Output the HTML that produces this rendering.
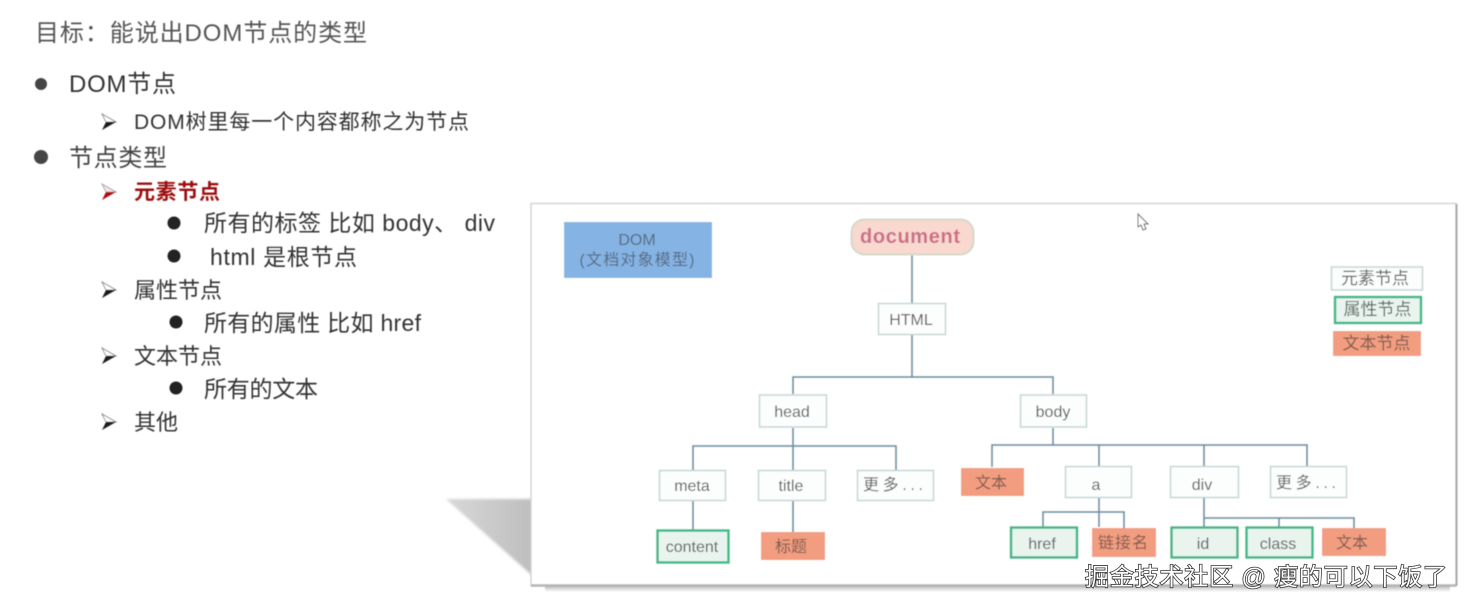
<!DOCTYPE html>
<html lang="zh">
<head>
<meta charset="utf-8">
<title>DOM节点的类型</title>
<style>
html,body{margin:0;padding:0;background:#fff;width:1464px;height:608px;overflow:hidden}
svg{display:block}
text{font-family:"Liberation Sans","Noto Sans CJK SC",sans-serif}
.n{fill:#fcfdfd;stroke:#c3d6d6;stroke-width:1.5}
.g{fill:#e9f4ef;stroke:#3eb888;stroke-width:2.5}
.o{fill:#f29d80}
.c{stroke:#6f93a6;stroke-width:1.8;fill:none}
.t{font-size:16px;fill:#5c5c5c;text-anchor:middle}
</style>
</head>
<body>
<svg width="1464" height="608" viewBox="0 0 1464 608" xmlns="http://www.w3.org/2000/svg">
<defs>
<linearGradient id="sh" x1="0" y1="0" x2="1" y2="0"><stop offset="0" stop-color="#d8d8d8"/><stop offset="1" stop-color="#bdbdbd"/></linearGradient>
<linearGradient id="bs" x1="0" y1="0" x2="0" y2="1"><stop offset="0" stop-color="#bbb"/><stop offset="1" stop-color="#fff"/></linearGradient>
<filter id="b" x="-5%" y="-5%" width="110%" height="110%"><feGaussianBlur stdDeviation="0.45"/></filter>
<filter id="b2" x="-10%" y="-10%" width="120%" height="120%"><feGaussianBlur stdDeviation="1.2"/></filter>
<g id="arrow">
<path d="M102 -8 L116 0 L106 0 Z" fill="#fff" stroke="#777" stroke-width="0.8"/>
<path d="M102 8 L116 0 L106 0 Z" fill="#1c1c1c"/>
</g>
<g id="arrowr">
<path d="M102 -8 L116 0 L106 0 Z" fill="#f6e6e6" stroke="#999" stroke-width="0.8"/>
<path d="M102 8 L116 0 L106 0 Z" fill="#b01010"/>
</g>
</defs>
<rect width="1464" height="608" fill="#fff"/>
<g filter="url(#b)">
<!-- Left text -->
<text x="35" y="41" font-size="24" fill="#555" textLength="332" lengthAdjust="spacing">目标：能说出DOM节点的类型</text>
<circle cx="41" cy="84" r="6" fill="#444"/>
<text x="69" y="92" font-size="24" fill="#333" textLength="107" lengthAdjust="spacing">DOM节点</text>
<use href="#arrow" y="122"/>
<text x="134" y="129" font-size="21" fill="#333" textLength="335" lengthAdjust="spacing">DOM树里每一个内容都称之为节点</text>
<circle cx="41" cy="157" r="7" fill="#444"/>
<text x="69" y="166" font-size="24" fill="#444" textLength="98" lengthAdjust="spacing">节点类型</text>
<use href="#arrowr" y="192"/>
<text x="134" y="199" font-size="21" font-weight="700" fill="#9c1010" textLength="86" lengthAdjust="spacing">元素节点</text>
<circle cx="174" cy="223" r="6.5" fill="#222"/>
<text x="204" y="231" font-size="23" fill="#333" textLength="291" lengthAdjust="spacing">所有的标签 比如 body、 div</text>
<circle cx="174" cy="256" r="6.5" fill="#222"/>
<text x="210" y="265" font-size="23" fill="#333" textLength="147" lengthAdjust="spacing">html 是根节点</text>
<use href="#arrow" y="290"/>
<text x="134" y="298" font-size="22" fill="#333" textLength="88" lengthAdjust="spacing">属性节点</text>
<circle cx="176" cy="322" r="6.5" fill="#222"/>
<text x="204" y="331" font-size="23" fill="#333" textLength="217" lengthAdjust="spacing">所有的属性 比如 href</text>
<use href="#arrow" y="356"/>
<text x="134" y="364" font-size="22" fill="#333" textLength="88" lengthAdjust="spacing">文本节点</text>
<circle cx="176" cy="388" r="6.5" fill="#222"/>
<text x="204" y="397" font-size="23" fill="#333" textLength="114" lengthAdjust="spacing">所有的文本</text>
<use href="#arrow" y="422"/>
<text x="134" y="430" font-size="22" fill="#333" textLength="44" lengthAdjust="spacing">其他</text>

<!-- Panel shadow -->
<polygon points="446,499 535,499 535,578" fill="url(#sh)" filter="url(#b2)"/>
<rect x="545" y="586" width="905" height="6" fill="url(#bs)"/>
<!-- Panel -->
<rect x="531" y="203.500" width="925" height="382" fill="#fff" stroke="#d4d4d4" stroke-width="1.500"/>
<path d="M531 585.500H1456" stroke="#b4b4b4" stroke-width="2.500"/>
<path d="M1456.500 204V586" stroke="#a8a8a8" stroke-width="2"/>

<!-- DOM box -->
<rect x="564" y="222" width="148" height="56" fill="#85b3e3"/>
<text x="637" y="245" font-size="16" fill="#566a82" text-anchor="middle">DOM</text>
<text x="637" y="265" font-size="16" fill="#566a82" text-anchor="middle" textLength="115" lengthAdjust="spacing">(文档对象模型)</text>

<!-- Cursor -->
<path d="M1138 214 L1138 227 L1141 225 L1143 230 L1146 229 L1144 224 L1148 224 Z" fill="#fff" stroke="#555" stroke-width="1"/>

<!-- Connectors -->
<path class="c" d="M912 255V377M793 394V377H1053V394M793 428V470M693 470V446H896V470M693 501V530M793 501V532"/>
<path class="c" d="M1053 428V445M992 467V445H1307V467M1099 445V466M1204 445V466M1099 497V527M1043 527V512H1124V528M1204 497V527M1204 518H1354V528M1279 518V527"/>

<!-- document -->
<rect x="851.500" y="219.500" width="122" height="35" rx="13" fill="#f8d8cf" stroke="#d6d9c8" stroke-width="2"/>
<text x="910" y="243" font-size="20" font-weight="700" fill="#cc6e86" text-anchor="middle" textLength="100" lengthAdjust="spacing">document</text>

<!-- Element nodes -->
<rect class="n" x="878.500" y="303.500" width="67" height="31"/><text class="t" x="911" y="325">HTML</text>
<rect class="n" x="759.500" y="395" width="67" height="32"/><text class="t" x="792" y="417">head</text>
<rect class="n" x="1020.500" y="395" width="66" height="32"/><text class="t" x="1053" y="417">body</text>
<rect class="n" x="659.500" y="470.500" width="66" height="30"/><text class="t" x="692" y="491">meta</text>
<rect class="n" x="758.500" y="470.500" width="67" height="30"/><text class="t" x="791" y="491">title</text>
<rect class="n" x="857.500" y="470.500" width="76" height="30"/><text class="t" x="893" y="490" textLength="60" lengthAdjust="spacing">更多...</text>
<rect class="n" x="1065.500" y="466.500" width="66" height="31"/><text class="t" x="1096" y="490">a</text>
<rect class="n" x="1170.500" y="466.500" width="68" height="31"/><text class="t" x="1202" y="490">div</text>
<rect class="n" x="1270.500" y="466.500" width="76" height="31"/><text class="t" x="1306" y="488" textLength="60" lengthAdjust="spacing">更多...</text>

<!-- Attribute nodes -->
<rect class="g" x="657.500" y="530.500" width="71" height="32"/><text class="t" x="692" y="552">content</text>
<rect class="g" x="1011" y="527.500" width="66" height="30"/><text class="t" x="1042" y="549">href</text>
<rect class="g" x="1171.500" y="527.500" width="66" height="30"/><text class="t" x="1203" y="549">id</text>
<rect class="g" x="1246.500" y="527.500" width="66" height="30"/><text class="t" x="1278" y="549">class</text>

<!-- Text nodes -->
<rect class="o" x="761" y="532" width="64" height="28"/><text class="t" x="791" y="552" style="fill:#7d5a4e">标题</text>
<rect class="o" x="961" y="468" width="63" height="28"/><text class="t" x="991" y="488" style="fill:#7d5a4e">文本</text>
<rect class="o" x="1092" y="528" width="64" height="29"/><text class="t" x="1123" y="548" style="fill:#7d5a4e" textLength="50" lengthAdjust="spacing">链接名</text>
<rect class="o" x="1322" y="528" width="64" height="28"/><text class="t" x="1352" y="548" style="fill:#7d5a4e">文本</text>

<!-- Legend -->
<rect class="n" x="1331.500" y="267" width="91" height="23"/><text class="t" x="1375" y="284" style="font-size:17px">元素节点</text>
<rect class="g" x="1335" y="297" width="86" height="26"/><text class="t" x="1377.500" y="315" style="fill:#55655e;font-size:17px">属性节点</text>
<rect class="o" x="1333" y="331" width="88" height="25"/><text class="t" x="1376.500" y="349" style="fill:#7d5a4e;font-size:17px">文本节点</text>
</g>

<!-- Watermark -->
<text x="1085" y="585" font-size="24" fill="#fff" stroke="#333" stroke-width="1.600" paint-order="stroke" textLength="362" lengthAdjust="spacing">掘金技术社区 @ 瘦的可以下饭了</text>
</svg>
</body>
</html>
